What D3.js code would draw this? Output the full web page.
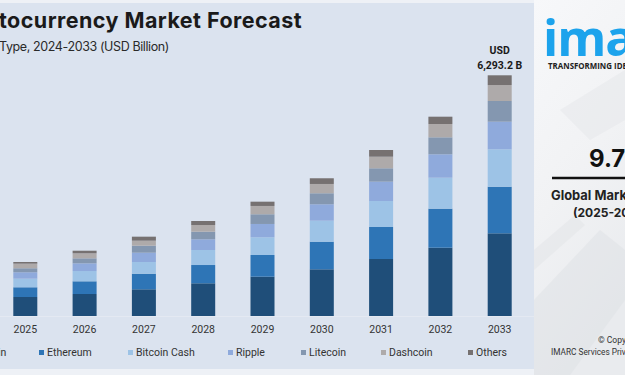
<!DOCTYPE html>
<html>
<head>
<meta charset="utf-8">
<script src="https://cdn.jsdelivr.net/npm/d3@7"></script>
<style>
  html, body { margin: 0; padding: 0; background: #eef1f6; }
  svg { display: block; overflow: hidden; }
</style>
</head>
<body>
<script>
// ---- data (USD Billion) ----
const years = ["2025", "2026", "2027", "2028", "2029", "2030", "2031", "2032", "2033"];
const seriesNames = ["Bitcoin", "Ethereum", "Bitcoin Cash", "Ripple", "Litecoin", "Dashcoin", "Others"];
const bitcoin     = [497, 575, 698, 855, 1028, 1221, 1490, 1786, 2162];
const ethereum    = [254, 332, 408, 478, 567, 722, 837, 1020, 1218];
const bitcoinCash = [225, 269, 306, 392, 463, 549, 680, 810, 978];
const ripple      = [167, 201, 243, 280, 348, 429, 505, 612, 722];
const litecoin    = [105, 131, 183, 199, 254, 288, 350, 444, 541];
const dashcoin    = [120, 131, 131, 175, 217, 243, 303, 348, 418];
const others      = [44, 68, 105, 105, 112, 149, 175, 191, 254.2];
const totalLabel  = ["USD", "6,293.2 B"];
const colors = ["#1f4e79", "#2e75b6", "#9dc3e6", "#8faadc", "#8497b0", "#aeaaaa", "#767171"];

const seriesValues = [bitcoin, ethereum, bitcoinCash, ripple, litecoin, dashcoin, others];
const table = years.map((y, i) => {
  const row = { year: y };
  seriesNames.forEach((s, j) => row[s] = seriesValues[j][i]);
  return row;
});

const W = 625, H = 375;
const svg = d3.select("body").append("svg").attr("width", W).attr("height", H);
const defs = svg.append("defs");

// helper: size a text so that its visible part has the width seen in the frame
function fitSize(t, visible, full, target, base) {
  t.attr("font-size", base).text(visible);
  const w = t.node().getComputedTextLength();
  t.attr("font-size", base * target / w).text(full);
  return t;
}
function fitSpacing(t, visible, full, target) {
  t.text(visible);
  const w = t.node().getComputedTextLength();
  t.attr("letter-spacing", (target - w) / visible.length).text(full);
  return t;
}

// backgrounds
svg.append("rect").attr("x", 0).attr("y", 0).attr("width", W).attr("height", H).attr("fill", "#eef1f6");
svg.append("rect").attr("x", -10).attr("y", 3).attr("width", 544).attr("height", 366).attr("fill", "#dbe3ef");

// right panel
const grad = defs.append("linearGradient").attr("id", "rp").attr("x1", 0).attr("y1", 0).attr("x2", 0.3).attr("y2", 1);
grad.append("stop").attr("offset", "0%").attr("stop-color", "#f7f8fa");
grad.append("stop").attr("offset", "55%").attr("stop-color", "#f1f2f4");
grad.append("stop").attr("offset", "100%").attr("stop-color", "#e9ebee");
svg.append("rect").attr("x", 534).attr("y", 0).attr("width", 91).attr("height", H).attr("fill", "url(#rp)");
const deco = svg.append("g").attr("opacity", 0.5);
deco.append("path").attr("d", "M534,300 L600,230 L625,250 L625,300 L570,375 L534,375 Z").attr("fill", "#dfe2e6");
deco.append("path").attr("d", "M560,110 L625,70 L625,120 L590,140 Z").attr("fill", "#e6e8eb");
deco.append("path").attr("d", "M534,250 L575,215 L585,225 L534,270 Z").attr("fill", "#e3e5e8");

// logo
const logoBlue = "#1ca3ec";
svg.append("text").attr("x", 543).attr("y", 56)
  .attr("font-family", "'Open Sans', sans-serif").attr("font-weight", 700)
  .attr("font-size", 50).attr("letter-spacing", -1).attr("fill", logoBlue).text("imarc");
fitSize(svg.append("text").attr("x", 548).attr("y", 69)
  .attr("font-family", "'Open Sans', sans-serif").attr("font-weight", 700).attr("fill", "#222"),
  "TRANSFORMING IDE", "TRANSFORMING IDEAS", 79, 7);

svg.append("text").attr("x", 589).attr("y", 167)
  .attr("font-family", "Inter, sans-serif").attr("font-weight", 700)
  .attr("font-size", 24).attr("fill", "#111").text("9.7");
svg.append("line").attr("x1", 552).attr("x2", 630).attr("y1", 178).attr("y2", 178)
  .attr("stroke", "#111").attr("stroke-width", 2.5);
fitSize(svg.append("text").attr("x", 551).attr("y", 200)
  .attr("font-family", "Inter, sans-serif").attr("font-weight", 700).attr("fill", "#222"),
  "Global Mark", "Global Market Growth Rate", 76, 11.5);
svg.append("text").attr("x", 573).attr("y", 217)
  .attr("font-family", "Inter, sans-serif").attr("font-weight", 700)
  .attr("font-size", 12).attr("fill", "#222").text("(2025-2033)");
fitSize(svg.append("text").attr("x", 598).attr("y", 343)
  .attr("font-family", "Roboto, sans-serif").attr("fill", "#333"),
  "© Copy", "© Copyright", 28, 7.5);
fitSize(svg.append("text").attr("x", 551).attr("y", 355)
  .attr("font-family", "Roboto, sans-serif").attr("fill", "#333"),
  "IMARC Services Priv", "IMARC Services Private Limited", 75, 7.5);

// titles (left part cropped by the frame)
const title = svg.append("text").attr("x", 302).attr("y", 28).attr("text-anchor", "end")
  .attr("font-family", "Inter, sans-serif").attr("font-weight", 700)
  .attr("font-size", 21.5).attr("fill", "#1a1a1a");
fitSpacing(title, "tocurrency Market Forecast", "Cryptocurrency Market Forecast", 303);
const sub = svg.append("text").attr("x", 169).attr("y", 51).attr("text-anchor", "end")
  .attr("font-family", "Inter, sans-serif").attr("font-size", 12.5).attr("fill", "#2a2a2a");
fitSpacing(sub, "Type, 2024-2033 (USD Billion)", "By Type, 2024-2033 (USD Billion)", 170);

// scales
const step = 59.3, firstCenter = 25.3;
const x = d3.scaleBand().domain(years)
  .range([firstCenter - step / 2, firstCenter - step / 2 + step * years.length])
  .paddingInner(1 - 24 / step).paddingOuter((1 - 24 / step) / 2);
const y = d3.scaleLinear().domain([0, 6293.2]).range([316, 75.3]);

const stacked = d3.stack().keys(seriesNames)(table);

// axis
const axis = svg.append("g").attr("transform", "translate(0,316)")
  .call(d3.axisBottom(x).tickSize(0).tickPadding(10));
axis.select(".domain").remove();
axis.selectAll("text").attr("font-family", "Roboto, sans-serif").attr("font-size", 10.5).attr("fill", "#333");
svg.append("line").attr("x1", -5).attr("x2", 534).attr("y1", 316.5).attr("y2", 316.5)
  .attr("stroke", "#e4e9f2").attr("stroke-width", 1);

// bars
svg.append("g").selectAll("g").data(stacked).join("g")
  .attr("fill", (d, i) => colors[i])
  .selectAll("rect").data(d => d).join("rect")
  .attr("x", d => x(d.data.year))
  .attr("width", x.bandwidth())
  .attr("y", d => y(d[1]))
  .attr("height", d => y(d[0]) - y(d[1]));

// total label on last bar
const last = years[years.length - 1];
const lastTotal = d3.sum(seriesValues, s => s[s.length - 1]);
svg.append("g").selectAll("text").data(totalLabel).join("text")
  .attr("x", x(last) + x.bandwidth() / 2)
  .attr("y", (d, i) => y(lastTotal) - 21 + i * 14.5)
  .attr("text-anchor", "middle")
  .attr("font-family", "Roboto, sans-serif").attr("font-weight", 700)
  .attr("font-size", 10.5).attr("fill", "#1a1a1a").text(d => d);

// legend
const legendX = [-34, 39, 128, 228, 301, 381, 468];
const lg = svg.append("g").selectAll("g").data(seriesNames).join("g")
  .attr("transform", (d, i) => `translate(${legendX[i]},350)`);
lg.append("rect").attr("width", 5).attr("height", 5).attr("fill", (d, i) => colors[i]);
lg.append("text").attr("x", 8).attr("y", 6)
  .attr("font-family", "Roboto, sans-serif").attr("font-size", 10.5).attr("fill", "#333").text(d => d);
</script>
</body>
</html>
